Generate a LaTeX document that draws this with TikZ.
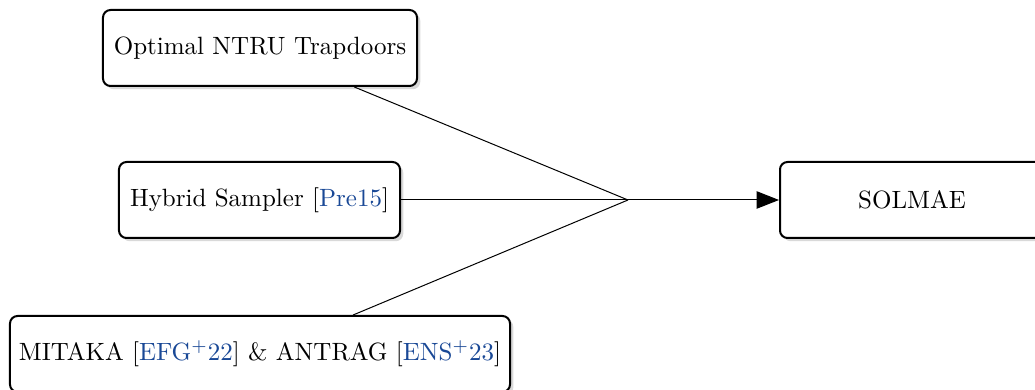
\documentclass[tikz,border=0pt]{standalone}
\usetikzlibrary{shadows,arrows.meta}
\definecolor{citeblue}{RGB}{25,72,150}
\newcommand{\citeref}[1]{[\textcolor{citeblue}{#1}]}
\begin{document}
\begin{tikzpicture}[x=0.4pt,y=0.4pt,
  box/.style={draw,thick,rounded corners=3pt,fill=white,minimum height=30.4pt,
    inner sep=0pt,
    drop shadow={shadow xshift=1.3pt,shadow yshift=-1.3pt,fill=black!15,opacity=1}},
  conn/.style={draw,line width=0.4pt}]
\useasboundingbox (0,0) rectangle (1035,-390);
\node[box,minimum width=125.6pt] (top) at (260,-48) {Optimal NTRU Trapdoors};
\node[box,minimum width=112.4pt] (hyb) at (259.5,-200) {Hybrid Sampler \citeref{Pre15}};
\node[box,minimum width=200pt] (mit) at (260,-354) {MITAKA \citeref{EFG$^+$22} \& ANTRAG \citeref{ENS$^+$23}};
\node[box,minimum width=105.6pt] (sol) at (912,-200) {SOLMAE};
\coordinate (j) at (628,-200);
\draw[conn] (top) -- (j);
\draw[conn] (hyb) -- (j);
\draw[conn] (mit) -- (j);
\draw[conn,-{Triangle[length=9pt,width=7pt]}] (j) -- (sol);
\end{tikzpicture}
\end{document}
